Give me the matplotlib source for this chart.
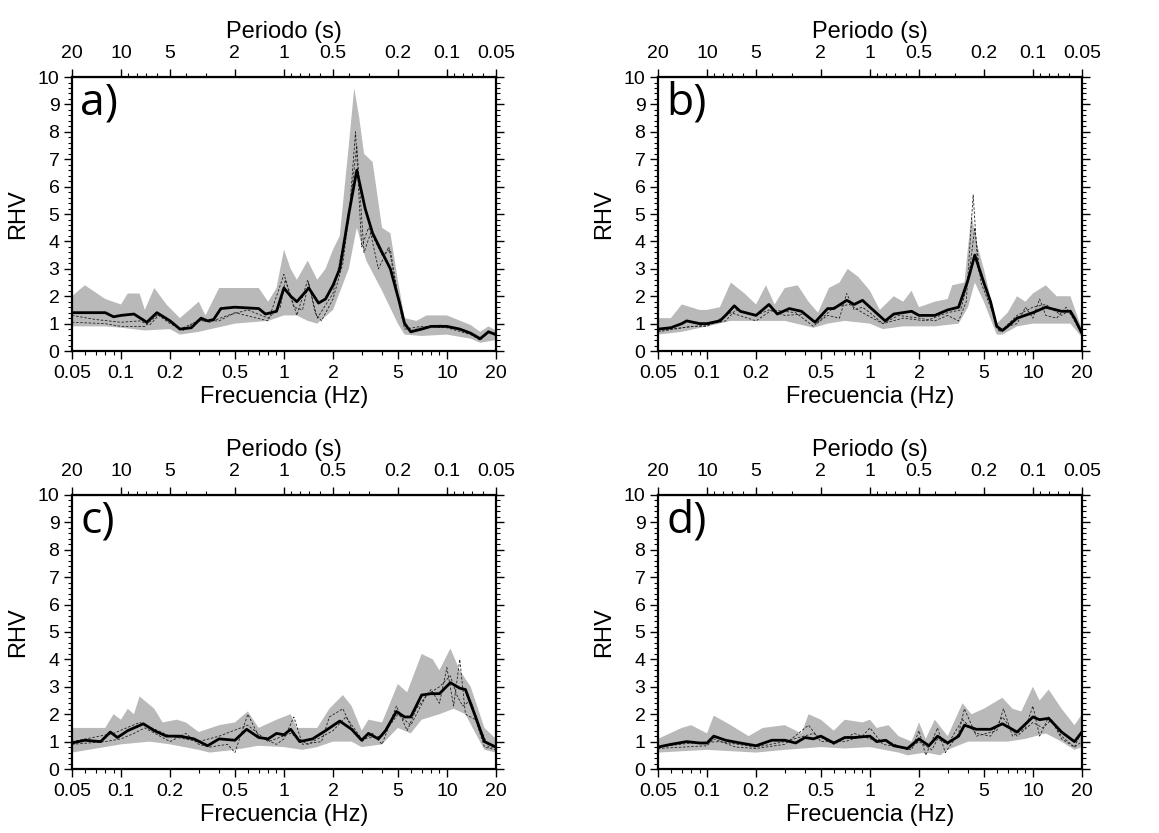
import numpy as np
import matplotlib
matplotlib.use('Agg')
import matplotlib.pyplot as plt
from matplotlib.ticker import FixedLocator, LogLocator, MultipleLocator, NullFormatter

plt.rcParams['font.family'] = ['Liberation Sans', 'DejaVu Sans']

freq_ticks = [0.05, 0.1, 0.2, 0.5, 1, 2, 5, 10, 20]
freq_labels = ['0.05', '0.1', '0.2', '0.5', '1', '2', '5', '10', '20']
per_ticks = [20, 10, 5, 2, 1, 0.5, 0.2, 0.1, 0.05]
per_labels = ['20', '10', '5', '2', '1', '0.5', '0.2', '0.1', '0.05']
panel_names = ['a)', 'b)', 'c)', 'd)']

# ---- panel a ----
fa_mean = [0.05, 0.06, 0.08, 0.09, 0.1, 0.12, 0.144, 0.166, 0.2, 0.23, 0.27, 0.31, 0.34, 0.37, 0.41, 0.5, 0.7,
           0.77, 0.9, 1.0, 1.1, 1.2, 1.42, 1.63, 1.8, 2.0, 2.2, 2.5, 2.8, 3.15, 3.5, 4.0, 4.5, 5.1, 5.5, 6.0,
           7.0, 8.0, 10, 12, 14, 16, 18, 20]
a_mean = [1.4, 1.4, 1.4, 1.25, 1.3, 1.35, 1.05, 1.4, 1.1, 0.8, 0.85, 1.2, 1.1, 1.15, 1.55, 1.6, 1.55,
          1.35, 1.45, 2.3, 2.0, 1.8, 2.3, 1.75, 1.9, 2.4, 3.0, 5.0, 6.6, 5.2, 4.3, 3.6, 3.0, 1.8, 1.0, 0.7,
          0.8, 0.9, 0.9, 0.8, 0.65, 0.45, 0.7, 0.6]
fa_hi = [0.05, 0.06, 0.08, 0.1, 0.11, 0.13, 0.14, 0.16, 0.19, 0.23, 0.3, 0.33, 0.4, 0.7, 0.8, 0.9, 1.0, 1.1,
         1.2, 1.4, 1.6, 1.8, 2.0, 2.2, 2.5, 2.7, 2.9, 3.1, 3.5, 4.0, 4.5, 5.0, 5.5, 6.5, 7.5, 10, 14, 16, 18, 20]
a_hi = [2.0, 2.4, 1.9, 1.7, 2.1, 2.1, 1.5, 2.3, 1.7, 1.2, 1.8, 1.3, 2.3, 2.3, 1.8, 2.3, 3.7, 3.0,
        2.6, 3.3, 2.6, 3.0, 3.7, 4.2, 7.5, 9.6, 8.5, 7.2, 6.9, 4.5, 4.3, 2.6, 1.2, 1.1, 1.3, 1.3, 0.95, 0.7, 0.9, 0.75]
fa_lo = [0.05, 0.08, 0.1, 0.14, 0.2, 0.23, 0.3, 0.5, 0.8, 1.0, 1.2, 1.4, 1.6, 2.0, 2.5, 2.8, 3.2, 4.0, 5.0,
         5.5, 7.0, 10, 14, 16, 20]
a_lo = [0.9, 0.9, 0.85, 0.75, 0.8, 0.6, 0.7, 1.0, 1.1, 1.3, 1.3, 1.1, 1.0, 1.5, 3.0, 4.5, 3.3, 2.2, 1.0,
        0.6, 0.55, 0.6, 0.45, 0.3, 0.4]
fa_d1 = [0.05, 0.08, 0.1, 0.14, 0.17, 0.23, 0.3, 0.4, 0.5, 0.8, 1.0, 1.2, 1.4, 1.6, 2.0, 2.5, 2.75, 3.0,
         3.3, 4.0, 4.5, 5.0, 5.5, 7.0, 10, 14, 16, 18, 20]
a_d1 = [1.05, 1.0, 0.9, 0.9, 1.35, 0.8, 1.1, 1.1, 1.4, 1.1, 2.8, 1.3, 2.6, 1.2, 2.1, 4.8, 8.0, 3.8,
        4.5, 3.5, 3.7, 2.0, 0.8, 0.9, 0.85, 0.6, 0.4, 0.7, 0.6]
fa_d2 = [0.05, 0.07, 0.1, 0.13, 0.15, 0.17, 0.2, 0.24, 0.3, 0.35, 0.45, 0.6, 0.8, 0.95, 1.02, 1.15, 1.3,
         1.42, 1.55, 1.7, 2.0, 2.3, 2.6, 2.8, 2.95, 3.1, 3.4, 3.8, 4.4, 4.8, 5.3, 6.0, 7.0, 9.0, 11, 13, 16, 18, 20]
a_d2 = [1.3, 1.15, 1.05, 1.1, 0.95, 1.3, 1.0, 0.75, 1.15, 1.05, 1.3, 1.5, 1.2, 1.6, 2.6, 1.6, 1.5,
        2.5, 1.4, 1.1, 1.9, 3.2, 5.8, 7.5, 5.5, 3.6, 4.3, 3.0, 3.8, 2.6, 1.2, 0.75, 0.85, 0.95, 0.85, 0.75, 0.4, 0.75, 0.55]

# ---- panel b ----
fb_mean = [0.05, 0.06, 0.07, 0.075, 0.09, 0.1, 0.12, 0.13, 0.147, 0.16, 0.2, 0.24, 0.27, 0.32, 0.38, 0.46,
           0.55, 0.6, 0.72, 0.8, 0.9, 1.0, 1.24, 1.4, 1.8, 2.0, 2.5, 3.0, 3.5, 4.0, 4.4, 5.0, 5.5, 6.0, 6.5,
           7.0, 8.0, 10, 12, 15, 17, 18, 20]
b_mean = [0.8, 0.85, 1.0, 1.1, 1.0, 1.0, 1.1, 1.3, 1.65, 1.45, 1.3, 1.7, 1.35, 1.55, 1.45, 1.05,
          1.55, 1.55, 1.85, 1.7, 1.85, 1.6, 1.1, 1.35, 1.45, 1.3, 1.3, 1.5, 1.6, 2.6, 3.5, 2.5, 1.8, 0.9, 0.75,
          0.9, 1.2, 1.4, 1.6, 1.45, 1.45, 1.2, 0.65]
fb_hi = [0.05, 0.06, 0.07, 0.09, 0.1, 0.12, 0.14, 0.17, 0.2, 0.23, 0.26, 0.3, 0.36, 0.42, 0.48, 0.56, 0.65,
         0.73, 0.85, 1.0, 1.15, 1.4, 1.6, 1.8, 2.0, 2.5, 3.0, 3.2, 3.8, 4.2, 4.5, 5.0, 6.0, 7.0, 8.0, 9.0,
         10, 12, 14, 17, 20]
b_hi = [1.2, 1.2, 1.7, 1.5, 1.5, 1.6, 2.5, 2.1, 1.7, 2.4, 1.7, 2.3, 2.4, 1.8, 1.4, 2.3, 2.5,
        3.0, 2.7, 2.2, 1.5, 2.0, 1.8, 2.2, 1.6, 1.8, 1.9, 2.4, 2.5, 5.0, 4.0, 3.0, 1.0, 1.4, 2.0, 1.8,
        2.1, 2.4, 2.0, 2.0, 0.8]
fb_lo = [0.05, 0.07, 0.1, 0.14, 0.2, 0.3, 0.45, 0.55, 0.7, 1.0, 1.2, 1.6, 2.0, 2.5, 3.5, 4.0, 4.4, 5.0, 6.0,
         6.5, 8.0, 10, 14, 17, 20]
b_lo = [0.6, 0.7, 0.9, 1.1, 1.1, 1.1, 0.85, 1.0, 1.1, 1.0, 0.8, 0.9, 0.9, 0.9, 1.0, 1.6, 2.5, 1.8, 0.6,
        0.6, 0.9, 1.0, 1.0, 1.0, 0.5]
fb_d1 = [0.05, 0.07, 0.1, 0.13, 0.15, 0.2, 0.24, 0.3, 0.4, 0.47, 0.55, 0.65, 0.72, 0.8, 0.9, 1.0, 1.2, 1.5,
         2.0, 2.5, 3.0, 3.5, 3.9, 4.3, 4.6, 5.2, 6.2, 7.0, 8.0, 9.0, 10, 11, 12, 14, 16, 18, 20]
b_d1 = [0.75, 0.85, 0.95, 1.1, 1.5, 1.3, 1.5, 1.3, 1.35, 1.0, 1.3, 1.2, 2.1, 1.5, 1.6, 1.4, 1.0, 1.3,
        1.2, 1.1, 1.3, 1.1, 1.8, 5.7, 3.0, 2.2, 0.7, 0.9, 1.0, 1.6, 1.2, 1.9, 1.3, 1.2, 1.6, 1.1, 0.6]
fb_d2 = [0.05, 0.08, 0.1, 0.14, 0.2, 0.25, 0.35, 0.45, 0.6, 0.75, 0.9, 1.2, 1.6, 2.2, 3.0, 3.6, 4.0, 4.4,
         4.8, 5.5, 6.3, 8.0, 10, 12, 15, 17, 20]
b_d2 = [0.7, 0.9, 0.9, 1.4, 1.1, 1.5, 1.4, 0.9, 1.6, 1.7, 1.4, 1.0, 1.2, 1.1, 1.4, 1.5, 2.5, 4.5,
        2.5, 1.6, 0.7, 1.3, 1.6, 1.7, 1.3, 1.5, 0.6]

# ---- panel c ----
fc_mean = [0.05, 0.06, 0.075, 0.086, 0.095, 0.11, 0.137, 0.16, 0.19, 0.23, 0.28, 0.34, 0.4, 0.5, 0.59, 0.7,
           0.8, 0.9, 1.0, 1.1, 1.25, 1.5, 1.8, 2.2, 2.6, 3.0, 3.3, 3.8, 4.2, 4.9, 5.5, 6.0, 7.0, 8.0, 9.0,
           10.5, 12, 13, 15, 17, 20]
c_mean = [0.95, 1.05, 1.0, 1.35, 1.15, 1.4, 1.65, 1.4, 1.2, 1.2, 1.1, 0.85, 1.1, 1.05, 1.45, 1.15,
          1.1, 1.3, 1.25, 1.45, 1.0, 1.1, 1.4, 1.75, 1.45, 1.05, 1.3, 1.1, 1.4, 2.1, 1.9, 1.9, 2.7, 2.75, 2.75,
          3.15, 2.95, 2.9, 1.9, 1.0, 0.8]
fc_hi = [0.05, 0.07, 0.08, 0.09, 0.1, 0.11, 0.12, 0.13, 0.16, 0.18, 0.22, 0.25, 0.3, 0.4, 0.5, 0.6, 0.7,
         0.9, 1.1, 1.2, 1.6, 1.9, 2.3, 2.6, 3.0, 3.3, 4.0, 5.0, 5.7, 7.0, 8.2, 9.0, 10.5, 12, 14, 17, 20]
c_hi = [1.5, 1.5, 1.5, 2.0, 1.8, 2.2, 2.0, 2.65, 2.2, 1.7, 1.8, 1.7, 1.35, 1.6, 1.7, 2.1, 1.5,
        1.8, 2.0, 1.5, 1.5, 2.2, 2.7, 2.3, 1.4, 1.8, 1.7, 3.1, 2.8, 4.2, 4.0, 3.6, 4.4, 3.6, 3.0, 1.5, 1.1]
fc_lo = [0.05, 0.1, 0.15, 0.2, 0.3, 0.35, 0.5, 0.7, 1.0, 1.3, 1.6, 2.0, 2.6, 3.0, 4.0, 5.0, 6.0, 7.0, 9.0,
         11, 13, 15, 17, 20]
c_lo = [0.6, 0.9, 1.0, 0.9, 0.7, 0.6, 0.7, 0.85, 0.8, 0.7, 0.8, 1.0, 1.0, 0.8, 0.9, 1.5, 1.3, 1.8, 2.0,
        2.2, 2.0, 1.3, 0.7, 0.6]
fc_d1 = [0.05, 0.08, 0.1, 0.12, 0.14, 0.2, 0.25, 0.3, 0.35, 0.45, 0.5, 0.6, 0.7, 0.9, 1.0, 1.15, 1.3, 1.7,
         1.9, 2.3, 2.6, 3.0, 3.5, 4.0, 4.9, 5.7, 6.5, 8.0, 9.0, 10, 11, 12, 13, 15, 17, 20]
c_d1 = [0.9, 1.0, 1.1, 1.3, 1.5, 1.0, 1.3, 0.9, 0.8, 0.9, 0.6, 2.0, 1.2, 0.9, 1.1, 1.9, 0.9, 1.0,
        1.9, 2.2, 1.5, 1.0, 1.3, 0.9, 2.3, 1.4, 2.2, 2.9, 2.4, 3.7, 2.3, 4.0, 2.0, 1.8, 0.8, 0.7]
fc_d2 = [0.05, 0.09, 0.13, 0.2, 0.3, 0.4, 0.6, 0.8, 1.1, 1.4, 2.0, 2.4, 3.0, 4.0, 5.0, 6.0, 7.5, 9.0, 10.5,
         11.5, 12.5, 14, 16, 18, 20]
c_d2 = [1.0, 1.3, 1.7, 1.2, 1.0, 1.2, 1.6, 1.0, 1.3, 0.9, 1.4, 1.9, 1.1, 1.2, 2.0, 1.6, 2.7, 3.0, 3.4,
        2.7, 2.3, 2.5, 1.5, 0.8, 0.8]

# ---- panel d ----
fd_mean = [0.05, 0.06, 0.075, 0.09, 0.1, 0.11, 0.13, 0.16, 0.2, 0.25, 0.3, 0.35, 0.4, 0.45, 0.5, 0.6, 0.7,
           0.8, 1.0, 1.1, 1.25, 1.4, 1.7, 2.0, 2.3, 2.6, 3.0, 3.5, 3.8, 4.5, 5.5, 6.5, 8.0, 10, 11, 12.5,
           15, 18, 20]
d_mean = [0.8, 0.9, 1.0, 0.95, 0.95, 1.2, 1.05, 0.95, 0.85, 1.05, 1.05, 0.95, 1.15, 1.1, 1.2, 0.95, 1.15,
          1.15, 1.2, 1.0, 1.05, 0.85, 0.75, 1.1, 0.85, 1.2, 0.95, 1.2, 1.6, 1.45, 1.45, 1.65, 1.35, 1.9, 1.8, 1.85,
          1.35, 1.0, 1.35]
fd_hi = [0.05, 0.07, 0.08, 0.1, 0.11, 0.14, 0.18, 0.22, 0.3, 0.38, 0.42, 0.5, 0.6, 0.7, 0.9, 1.0, 1.1, 1.3,
         1.5, 1.8, 2.0, 2.2, 2.5, 3.0, 3.7, 4.2, 5.0, 6.5, 7.5, 8.5, 10, 11, 12.5, 15, 18, 20]
d_hi = [1.1, 1.5, 1.6, 1.3, 1.95, 1.6, 1.2, 1.5, 1.6, 1.3, 2.0, 1.8, 1.4, 1.8, 1.7, 1.8, 1.5, 1.6,
        1.2, 1.0, 1.7, 1.1, 1.8, 1.2, 2.4, 2.0, 2.2, 2.6, 2.2, 2.1, 3.0, 2.5, 2.9, 2.2, 1.6, 2.0]
fd_lo = [0.05, 0.1, 0.2, 0.3, 0.5, 0.7, 1.0, 1.5, 1.7, 2.2, 2.7, 3.0, 4.0, 5.0, 7.0, 9.0, 12, 15, 18, 20]
d_lo = [0.6, 0.7, 0.6, 0.7, 0.8, 0.75, 0.8, 0.6, 0.5, 0.6, 0.5, 0.7, 1.0, 1.0, 1.0, 1.1, 1.3, 1.0, 0.7, 0.8]
fd_d1 = [0.05, 0.1, 0.11, 0.15, 0.2, 0.3, 0.42, 0.5, 0.7, 0.9, 1.0, 1.2, 1.5, 1.8, 2.0, 2.2, 2.6, 2.9, 3.5,
         3.8, 4.5, 6.0, 6.6, 7.5, 9.0, 10, 11, 12.5, 15, 18, 20]
d_d1 = [0.75, 0.85, 1.1, 0.8, 0.75, 0.9, 1.6, 1.0, 1.0, 1.2, 1.5, 0.9, 0.8, 0.7, 1.4, 0.5, 1.5, 0.6, 1.3,
        2.2, 1.2, 1.4, 2.2, 1.2, 1.5, 2.3, 1.2, 1.9, 1.2, 0.8, 1.0]
fd_d2 = [0.05, 0.08, 0.12, 0.2, 0.3, 0.45, 0.6, 0.8, 1.0, 1.3, 1.7, 2.0, 2.4, 2.6, 3.0, 3.7, 4.5, 5.5, 6.5,
         8.0, 10, 11.5, 13, 15, 18, 20]
d_d2 = [0.8, 0.95, 1.0, 0.8, 1.0, 1.3, 0.9, 1.3, 1.1, 1.0, 0.7, 1.0, 0.7, 1.1, 0.9, 1.8, 1.3, 1.2, 1.9,
        1.2, 1.7, 1.5, 1.8, 1.1, 0.8, 1.4]

panels = [
    (fa_mean, a_mean, fa_hi, a_hi, fa_lo, a_lo, [(fa_d1, a_d1), (fa_d2, a_d2)]),
    (fb_mean, b_mean, fb_hi, b_hi, fb_lo, b_lo, [(fb_d1, b_d1), (fb_d2, b_d2)]),
    (fc_mean, c_mean, fc_hi, c_hi, fc_lo, c_lo, [(fc_d1, c_d1), (fc_d2, c_d2)]),
    (fd_mean, d_mean, fd_hi, d_hi, fd_lo, d_lo, [(fd_d1, d_d1), (fd_d2, d_d2)]),
]

boxes = [[0.0621, 0.5786, 0.3658, 0.3289],
         [0.5677, 0.5786, 0.3658, 0.3289],
         [0.0621, 0.0768, 0.3658, 0.3290],
         [0.5677, 0.0768, 0.3658, 0.3290]]

inv = lambda x: 1.0 / np.asarray(x, dtype=float)

fig = plt.figure(figsize=(11.59, 8.33), dpi=100)

for k in range(4):
    fm, ym, fh, yh, fl, yl, dashed = panels[k]
    ax = fig.add_axes(boxes[k])

    # gray band: upper edge then lower edge back
    px = list(fh) + list(fl)[::-1]
    py = list(yh) + list(yl)[::-1]
    ax.fill(px, py, color='#b9b9b9', lw=0, zorder=1)

    for fx, fy in dashed:
        ax.plot(fx, fy, color='#202020', lw=0.6, ls=(0, (3, 2)), zorder=2)
    ax.plot(fm, ym, color='black', lw=2.0, zorder=3, solid_joinstyle='round')

    ax.set_xscale('log')
    ax.set_xlim(0.05, 20)
    ax.set_ylim(0, 10)

    ax.xaxis.set_major_locator(FixedLocator(freq_ticks))
    ax.set_xticklabels(freq_labels)
    ax.xaxis.set_minor_locator(LogLocator(base=10, subs=np.arange(1, 10)))
    ax.xaxis.set_minor_formatter(NullFormatter())
    ax.yaxis.set_major_locator(MultipleLocator(1))
    ax.yaxis.set_minor_locator(MultipleLocator(0.2))

    ax.tick_params(axis='both', which='major', direction='out', length=6, width=1.0,
                   labelsize=14)
    ax.tick_params(axis='x', which='major', pad=4)
    ax.tick_params(axis='y', which='major', pad=3)
    ax.tick_params(axis='both', which='minor', direction='out', length=3, width=0.8)
    ax.tick_params(axis='y', which='both', left=True, right=True)
    ax.tick_params(axis='x', which='both', top=False)

    for s in ax.spines.values():
        s.set_linewidth(1.6)

    ax.set_xlabel('Frecuencia (Hz)', fontsize=17, labelpad=3)
    ax.set_ylabel('RHV', fontsize=17, labelpad=6)

    sec = ax.secondary_xaxis('top', functions=(inv, inv))
    sec.set_xticks(per_ticks)
    sec.set_xticklabels(per_labels)
    sec.xaxis.set_minor_locator(LogLocator(base=10, subs=np.arange(1, 10)))
    sec.xaxis.set_minor_formatter(NullFormatter())
    sec.tick_params(axis='x', which='major', direction='out', length=6, width=1.0,
                    labelsize=14, pad=5)
    sec.tick_params(axis='x', which='minor', direction='out', length=3, width=0.8)
    sec.set_xlabel('Periodo (s)', fontsize=17, labelpad=5)

    ax.text(0.02, 0.905, panel_names[k], transform=ax.transAxes, fontsize=32,
            family=['Open Sans', 'DejaVu Sans'], ha='left', va='center', zorder=4)

fig.savefig('out.png', dpi=100)
